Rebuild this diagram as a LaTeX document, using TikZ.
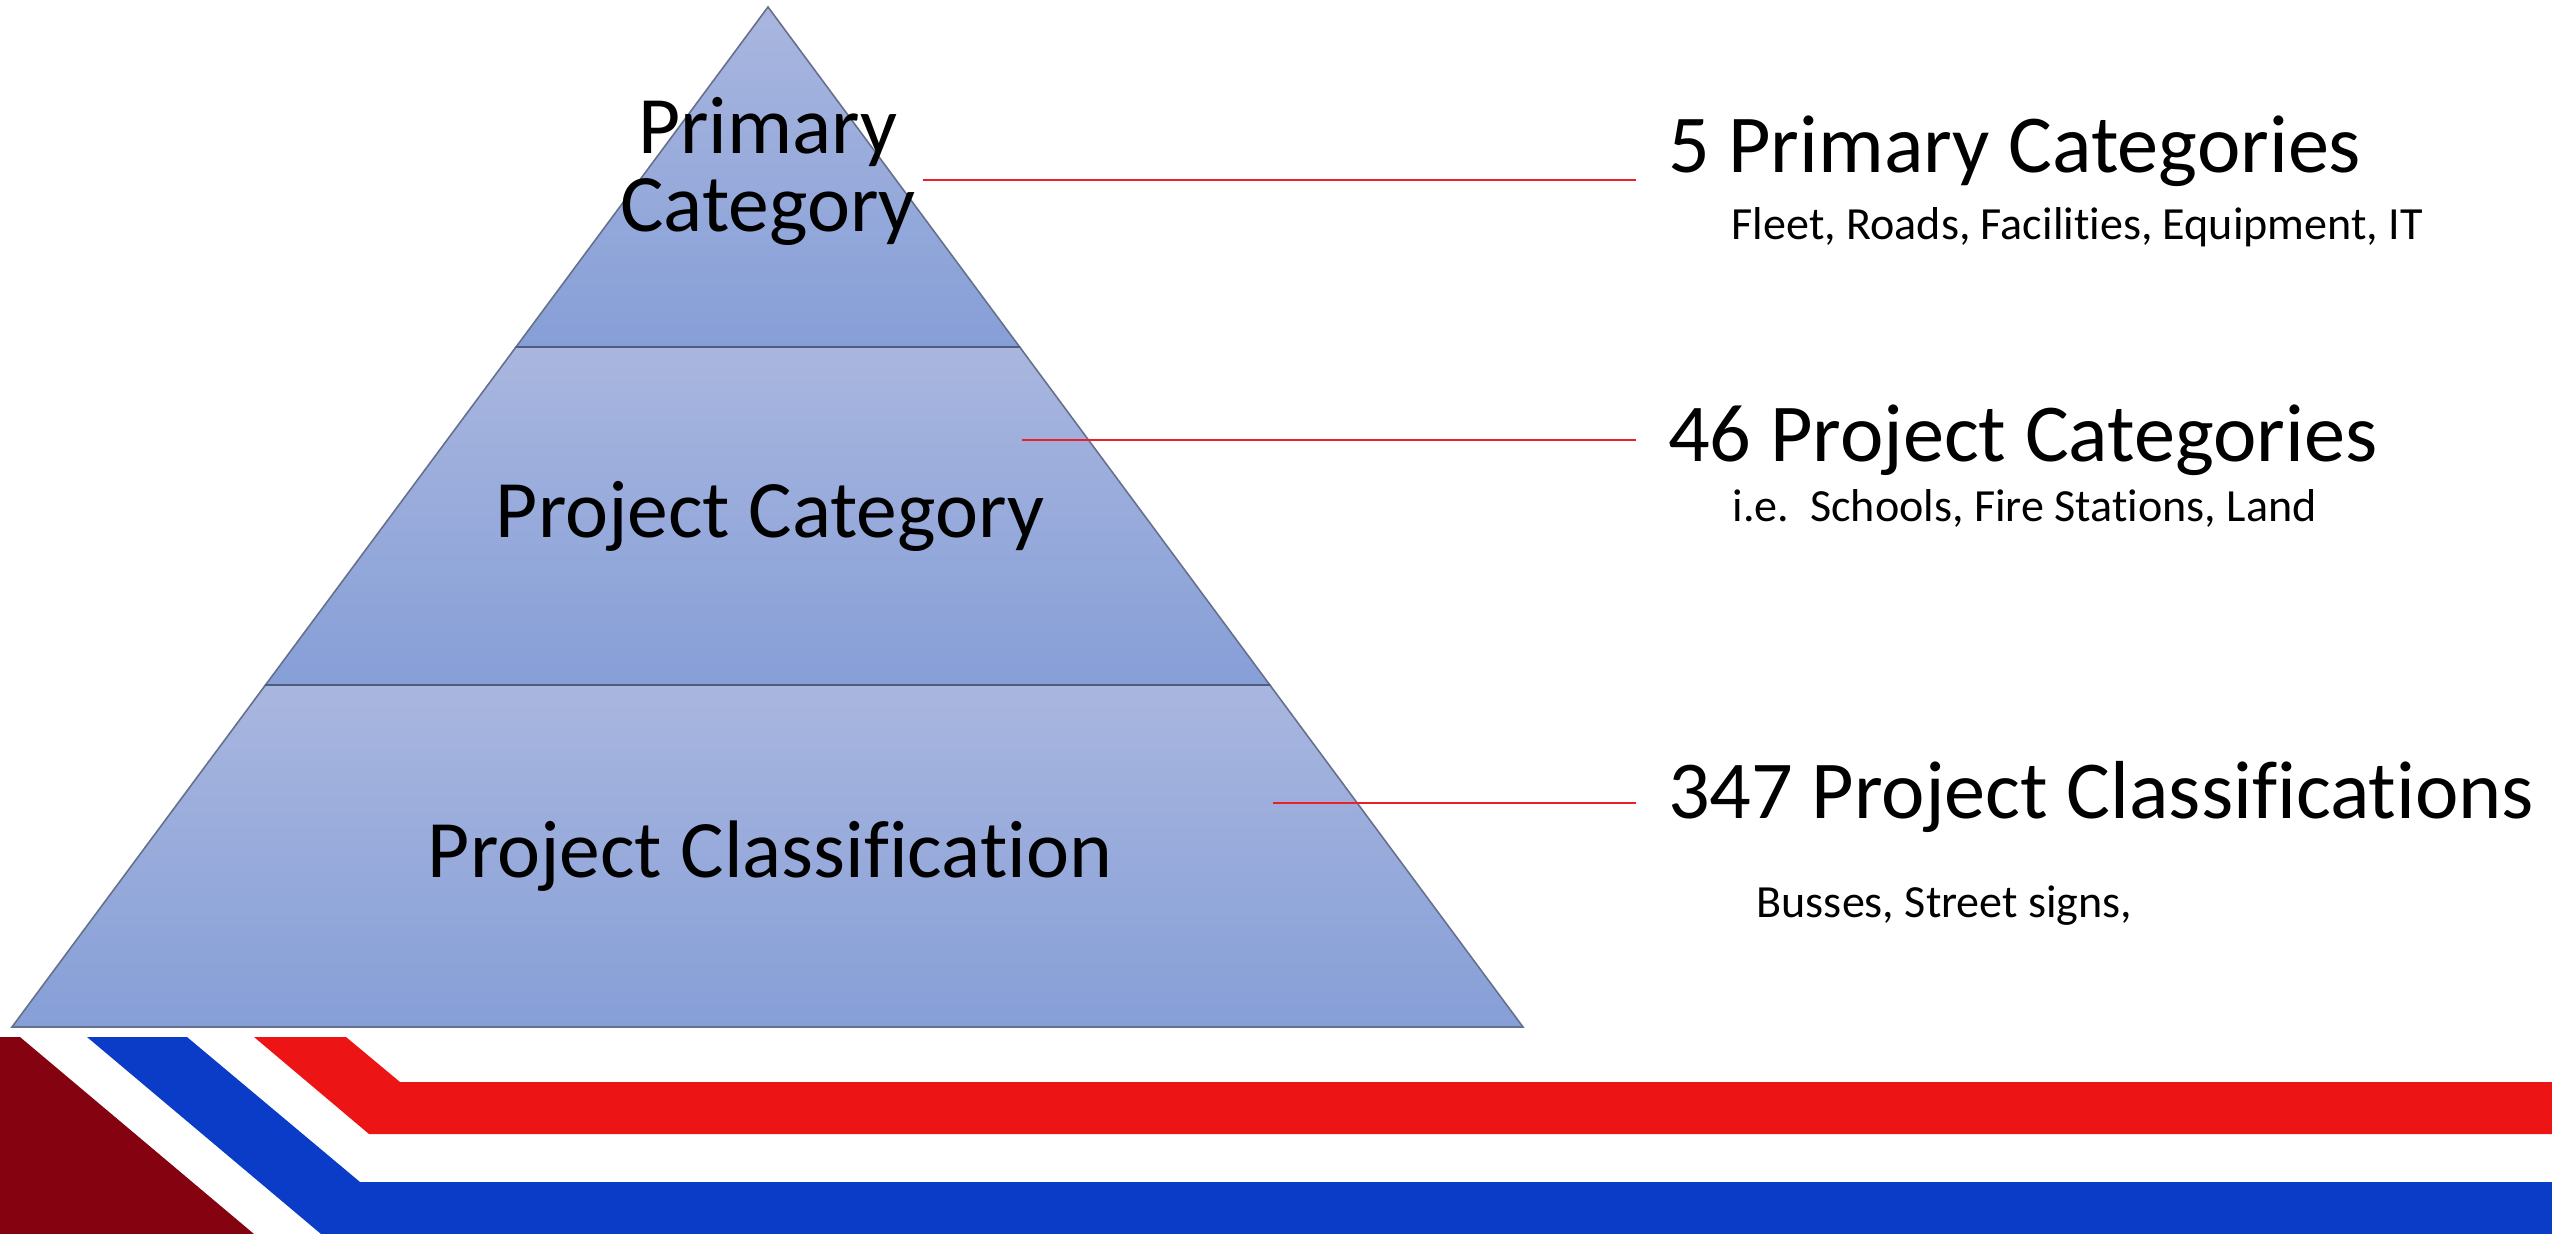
\documentclass[tikz,border=0pt]{standalone}
\usepackage{fontspec}
\setmainfont{Carlito}[Ligatures=NoCommon]
\usetikzlibrary{calc}

\definecolor{tiertop}{RGB}{169,182,223}
\definecolor{tierbot}{RGB}{134,159,215}
\definecolor{tierline}{RGB}{100,112,140}
\definecolor{divline}{RGB}{80,92,125}
\definecolor{leaderred}{RGB}{232,32,40}
\definecolor{deepred}{RGB}{133,2,16}
\definecolor{stripeblue}{RGB}{10,60,200}
\definecolor{stripered}{RGB}{236,20,20}

\tikzset{
	tier/.style={draw=tierline, line width=0.45pt, top color=tiertop, bottom color=tierbot}, % one slice of the pyramid
	divider/.style={draw=divline, line width=0.6pt},
	tierlabel/.style={font=\fontsize{23.2}{22.2}\selectfont, align=center, inner sep=0pt, anchor=base},
	count/.style={font=\fontsize{23.4}{24}\selectfont, inner sep=0pt, outer xsep=0.32cm, anchor=base west},
	examples/.style={font=\fontsize{13.1}{15}\selectfont, inner sep=0pt, anchor=base west},
	leader/.style={draw=leaderred, line width=0.6pt},
}

\begin{document}
\begin{tikzpicture}[x=0.01cm, y=-0.01cm]
	\useasboundingbox (0,0) rectangle (2552,1234);

	% pyramid
	\coordinate (apex) at (768,7);
	\coordinate (bl) at (12,1027);
	\coordinate (br) at (1523,1027);
	\coordinate (l1) at ($(apex)!0.3333!(bl)$);
	\coordinate (r1) at ($(apex)!0.3333!(br)$);
	\coordinate (l2) at ($(apex)!0.6647!(bl)$);
	\coordinate (r2) at ($(apex)!0.6647!(br)$);
	\path[tier] (apex) -- (r1) -- (l1) -- cycle;
	\path[tier] (l1) -- (r1) -- (r2) -- (l2) -- cycle;
	\path[tier] (l2) -- (r2) -- (br) -- (bl) -- cycle;
	\draw[divider] (l1) -- (r1) (l2) -- (r2);

	% base is the last line here
	\node[tierlabel] (primary) at (768,232) {Primary\\Category};
	\node[tierlabel] (category) at (770,538) {Project Category};
	\node[tierlabel] (classif) at (770,877) {Project Classification};

	% counts on the right
	\node[count] (c1) at (1636,173) {5 Primary Categories};
	\node[examples] (e1) at (1731,240) {Fleet, Roads, Facilities, Equipment, IT};
	\node[count] (c2) at (1636,462) {46 Project Categories};
	\node[examples] (e2) at (1732,522) {i.e.\ \ Schools, Fire Stations, Land};
	\node[count] (c3) at (1636,818) {347 Project Classifications};
	\node[examples] (e3) at (1756,917) {Busses, Street signs,};

	% leader lines
	\coordinate (s1) at (923,180);
	\coordinate (s2) at (1022,440);
	\coordinate (s3) at (1273,803);
	\draw[leader] (s1) -- (s1 -| c1.west);
	\draw[leader] (s2) -- (s2 -| c2.west);
	\draw[leader] (s3) -- (s3 -| c3.west);

	% footer stripes
	\fill[deepred] (0,1037) -- (20,1037) -- (254,1234) -- (0,1234) -- cycle;
	\fill[stripeblue] (87,1037) -- (187,1037) -- (360,1182) -- (2552,1182)
		-- (2552,1234) -- (321,1234) -- cycle;
	\fill[stripered] (254,1037) -- (346,1037) -- (400,1082) -- (2552,1082)
		-- (2552,1134) -- (369,1134) -- cycle;
\end{tikzpicture}
\end{document}
